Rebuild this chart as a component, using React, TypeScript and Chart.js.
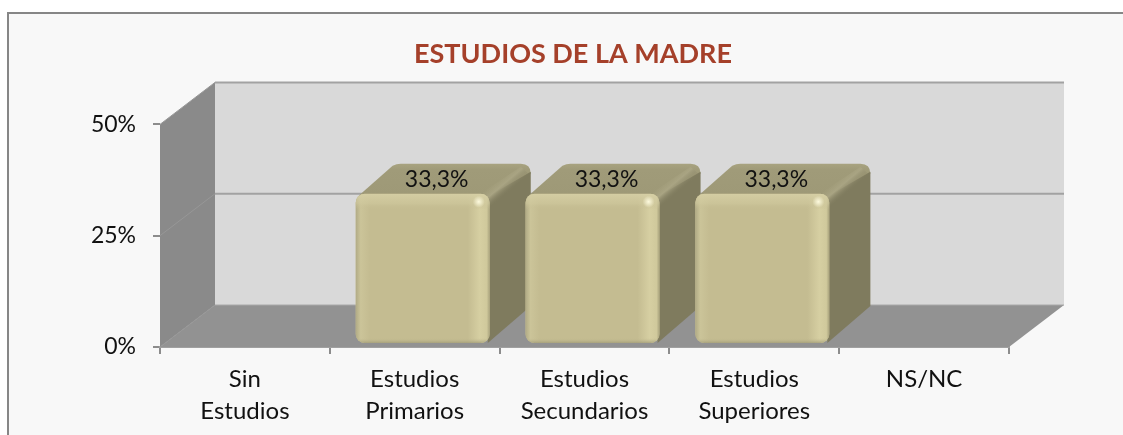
import React, { useEffect, useRef } from "react";
import { Chart, registerables } from "chart.js";

Chart.register(...registerables);

const categories = [["Sin", "Estudios"], ["Estudios", "Primarios"], ["Estudios", "Secundarios"], ["Estudios", "Superiores"], "NS/NC"];
const seriesValues = [0, 33.3, 33.3, 33.3, 0];
const yTicks = [0, 25, 50];
const titleText = "ESTUDIOS DE LA MADRE";
const FONT = "Lato, Carlito, 'Noto Sans', sans-serif";

const DX = 55;
const DY = 42;

function poly(c: CanvasRenderingContext2D, pts: number[][], fill: string) {
  c.beginPath();
  pts.forEach((p, i) => (i ? c.lineTo(p[0], p[1]) : c.moveTo(p[0], p[1])));
  c.closePath();
  c.fillStyle = fill;
  c.fill();
}

const scene3d = {
  id: "scene3d",
  beforeDraw(chart: any) {
    const c: CanvasRenderingContext2D = chart.ctx;
    c.save();
    c.fillStyle = "#f8f8f8";
    c.fillRect(8, 13, 1115, 422);
    c.strokeStyle = "#868686";
    c.lineWidth = 2;
    c.beginPath();
    c.moveTo(8, 435);
    c.lineTo(8, 13);
    c.lineTo(1123, 13);
    c.stroke();
    c.restore();
  },
  afterLayout(chart: any) {
    // Title is centred over the frame rather than over the plot.
    const t = chart.titleBlock;
    const shift = 573 - (t.left + t.right) / 2;
    t.left += shift;
    t.right += shift;
  },
  afterDatasetsUpdate(chart: any) {
    // The bars sit inside the 3D depth, slightly shifted from the category centre.
    chart.getDatasetMeta(0).data.forEach((el: any, i: number) => {
      if (!seriesValues[i]) return;
      el.x += 8;
      el.y -= 5;
      el.base -= 3;
    });
  },
  beforeDatasetsDraw(chart: any) {
    const c: CanvasRenderingContext2D = chart.ctx;
    const { left, right } = chart.chartArea;
    const y = chart.scales.y;
    const y0 = y.getPixelForValue(0);
    const yMax = y.getPixelForValue(50);
    c.save();
    // back wall
    c.fillStyle = "#d9d9d9";
    c.fillRect(left + DX, yMax - DY, right - left, y0 - yMax);
    // side wall
    poly(c, [[left, yMax], [left + DX, yMax - DY], [left + DX, y0 - DY], [left, y0]], "#8a8a8a");
    // floor
    poly(c, [[left, y0], [right, y0], [right + DX, y0 - DY], [left + DX, y0 - DY]], "#929292");
    // grid lines on the back wall, faint on the side wall
    yTicks.forEach((v) => {
      const p = y.getPixelForValue(v);
      c.beginPath();
      c.moveTo(left, p);
      c.lineTo(left + DX, p - DY);
      c.strokeStyle = "#979797";
      c.lineWidth = 1;
      c.stroke();
      c.beginPath();
      c.moveTo(left + DX, p - DY);
      c.lineTo(right + DX, p - DY);
      c.strokeStyle = v === 0 ? "#a8a8a8" : "#a2a2a2";
      c.lineWidth = v === 0 ? 1 : 2;
      c.stroke();
    });

    // bar top and side faces
    chart.getDatasetMeta(0).data.forEach((el: any, i: number) => {
      if (!seriesValues[i]) return;
      const x0 = el.x - el.width / 2;
      const x1 = el.x + el.width / 2;
      const top = el.y;
      const bot = el.base;
      const sx = 41;
      const sy = 30;
      const sb = 37;
      const r = 10;
      const topG = c.createLinearGradient(0, top - sy, 0, top);
      topG.addColorStop(0, "#a8a380");
      topG.addColorStop(0.2, "#a09b79");
      topG.addColorStop(1, "#9e9977");
      c.beginPath();
      c.moveTo(x0 + 3, top + 2);
      c.lineTo(x0 + sx - 4, top - sy + 2);
      c.quadraticCurveTo(x0 + sx, top - sy, x0 + sx + 4, top - sy);
      c.lineTo(x1 + sx - r, top - sy);
      c.quadraticCurveTo(x1 + sx, top - sy, x1 + sx, top - sy + r);
      c.lineTo(x1, top + 12);
      c.closePath();
      c.fillStyle = topG;
      c.fill();
      // side face
      c.beginPath();
      c.moveTo(x1 - 4, top + 4);
      c.lineTo(x1 + sx, top - sy + 8);
      c.lineTo(x1 + sx, bot - sb);
      c.lineTo(x1 - 2, bot);
      c.closePath();
      c.fillStyle = "#7f7b5e";
      c.fill();
      // soft ridge along the top right edge
      const mx = x1 + sx / 2;
      const my = top - sy / 2;
      const ridge = c.createLinearGradient(mx - 5, my - 6, mx + 6, my + 7);
      ridge.addColorStop(0, "rgba(168,163,128,0)");
      ridge.addColorStop(0.45, "#a9a483");
      ridge.addColorStop(1, "rgba(127,123,94,0)");
      c.beginPath();
      c.moveTo(x1 - 8, top - 1);
      c.lineTo(x1 + sx - 10, top - sy + 3);
      c.lineTo(x1 + sx, top - sy + 12);
      c.lineTo(x1 + 3, top + 15);
      c.closePath();
      c.fillStyle = ridge;
      c.fill();
    });
    c.restore();
  },
  afterDatasetsDraw(chart: any) {
    const c: CanvasRenderingContext2D = chart.ctx;
    chart.getDatasetMeta(0).data.forEach((el: any, i: number) => {
      if (!seriesValues[i]) return;
      const x0 = el.x - el.width / 2;
      const x1 = el.x + el.width / 2;
      const top = el.y;
      const bot = el.base;
      c.save();
      c.beginPath();
      (c as any).roundRect(x0, top, x1 - x0, bot - top, 9);
      c.clip();
      const h = c.createLinearGradient(x0, 0, x1, 0);
      const w = x1 - x0;
      h.addColorStop(0, "#b0aa85");
      h.addColorStop(5 / w, "#cbc499");
      h.addColorStop(14 / w, "#c4bc91");
      h.addColorStop(1 - 22 / w, "#c4bc91");
      h.addColorStop(1 - 10 / w, "#d6cfa2");
      h.addColorStop(1 - 3 / w, "#d0c99c");
      h.addColorStop(1, "#a8a27c");
      c.fillStyle = h;
      c.fillRect(x0, top, w, bot - top);
      const v = c.createLinearGradient(0, top, 0, top + 16);
      v.addColorStop(0, "rgba(214,207,165,0.9)");
      v.addColorStop(0.6, "rgba(208,201,158,0.6)");
      v.addColorStop(1, "rgba(196,188,145,0)");
      c.fillStyle = v;
      c.fillRect(x0, top, w, 16);
      const b = c.createLinearGradient(0, bot - 5, 0, bot);
      b.addColorStop(0, "rgba(196,188,145,0)");
      b.addColorStop(1, "rgba(160,155,120,0.8)");
      c.fillStyle = b;
      c.fillRect(x0, bot - 5, w, 5);
      const spot = c.createRadialGradient(x1 - 11, top + 8, 0, x1 - 11, top + 8, 6);
      spot.addColorStop(0, "rgba(255,252,225,0.95)");
      spot.addColorStop(1, "rgba(255,252,225,0)");
      c.fillStyle = spot;
      c.fillRect(x1 - 18, top, 14, 16);
      c.restore();
      // data label on the top face
      c.save();
      c.font = `23px ${FONT}`;
      c.fillStyle = "#111111";
      c.textAlign = "center";
      c.textBaseline = "middle";
      c.fillText(seriesValues[i].toFixed(1).replace(".", ",") + "%", el.x + 14, top - 14);
      c.restore();
    });
  },
};

export default function App() {
  const ref = useRef<HTMLCanvasElement>(null);
  useEffect(() => {
    const chart = new Chart(ref.current!, {
      type: "bar",
      data: {
        labels: categories as any,
        datasets: [
          {
            data: seriesValues,
            backgroundColor: "#c4bc91",
            borderWidth: 0,
            borderRadius: 9,
            borderSkipped: false,
            barPercentage: 0.79,
            categoryPercentage: 1,
          },
        ],
      },
      options: {
        responsive: false,
        animation: false,
        layout: { padding: { left: 0, right: 114, top: 0, bottom: 0 } },
        plugins: {
          legend: { display: false },
          tooltip: { enabled: false },
          title: {
            display: true,
            text: titleText,
            color: "#a5402a",
            font: { family: FONT, size: 27, weight: "bold", lineHeight: 1.2 },
            padding: { top: 38, bottom: 54 },
          },
        },
        scales: {
          x: {
            grid: { drawOnChartArea: false, color: "#8c8c8c", tickLength: 7, lineWidth: 2, offset: true },
            border: { color: "#a0a0a0", width: 2 },
            ticks: { color: "#111111", font: { family: FONT, size: 24, lineHeight: 1.33 }, padding: 9, maxRotation: 0, autoSkip: false },
            afterFit(s: any) { s.height = 88; },
          },
          y: {
            min: 0,
            max: 50,
            afterBuildTicks(s: any) { s.ticks = yTicks.map((value) => ({ value })); },
            grid: { drawOnChartArea: false, color: "#8c8c8c", tickLength: 7, lineWidth: 2 },
            border: { display: false },
            ticks: { color: "#111111", font: { family: FONT, size: 23 }, padding: 17, callback: (v: any) => v + "%" },
            afterFit(s: any) { s.width = 160; },
          },
        },
      },
      plugins: [scene3d],
    } as any);
    return () => chart.destroy();
  }, []);
  return (
    <canvas
      ref={ref}
      width={1123}
      height={435}
      style={{ position: "fixed", left: 0, top: 0, display: "block", background: "#ffffff" }}
    />
  );
}
